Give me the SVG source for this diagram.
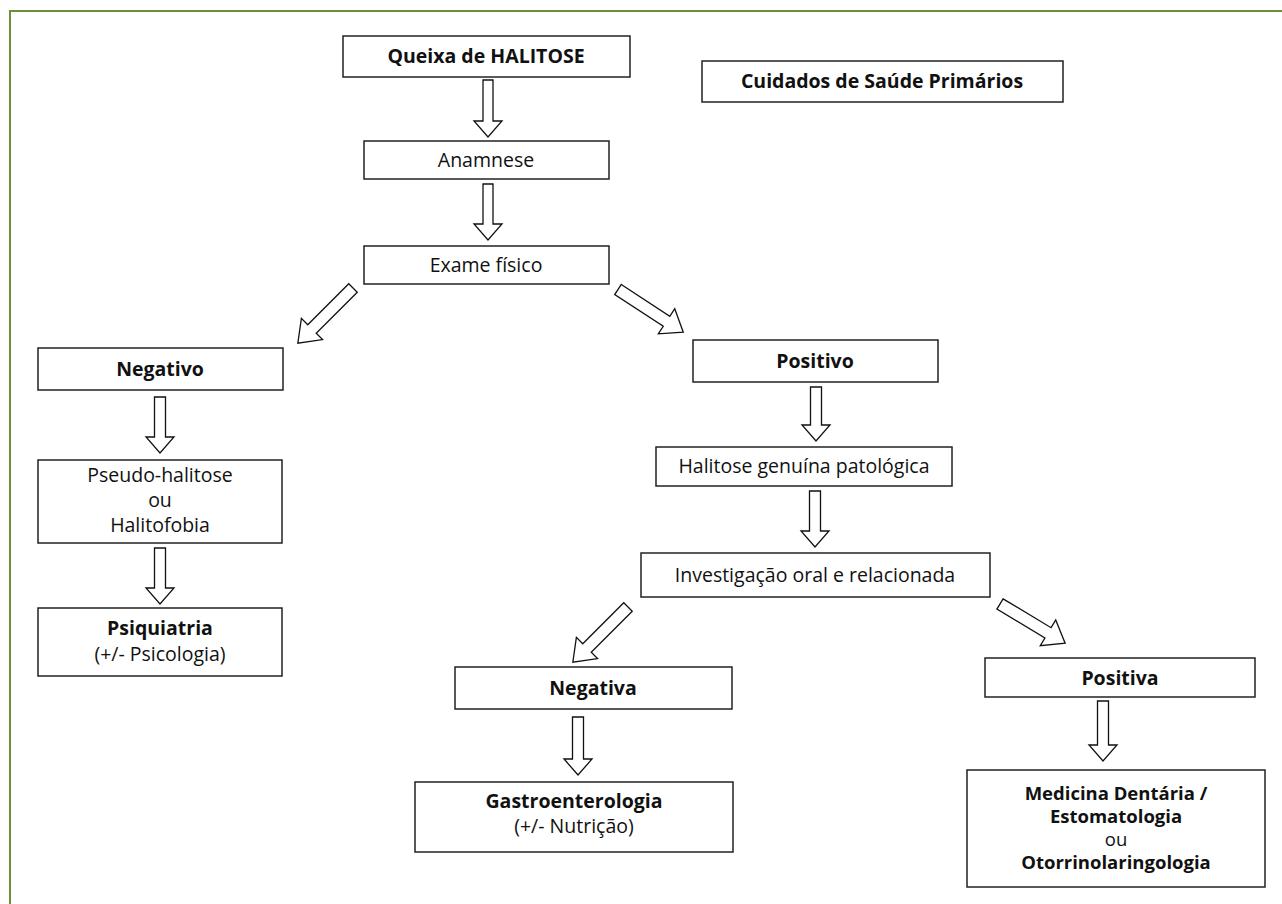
<svg xmlns="http://www.w3.org/2000/svg" width="1282" height="904" viewBox="0 0 1282 904">
<style>
.box{fill:#fff;stroke:#222;stroke-width:1.5}
.arr{fill:#fff;stroke:#111;stroke-width:1.3;stroke-linejoin:miter}
text{font-family:"Open Sans","Liberation Sans",sans-serif;font-size:19.5px;fill:#111;text-anchor:middle}
.b{font-weight:bold}
.s{font-size:18.5px}
</style>
<rect x="0" y="0" width="1282" height="904" fill="#fff"/>
<rect x="10" y="11" width="1290" height="910" fill="none" stroke="#6f8f3a" stroke-width="2"/>
<g id="connectors">
<polygon class="arr" transform="translate(488,80)" points="-5,0 5,0 5,41 14,41 0,57 -14,41 -5,41"/>
<polygon class="arr" transform="translate(488,184)" points="-5,0 5,0 5,40 14,40 0,56 -14,40 -5,40"/>
<polygon class="arr" transform="translate(353,288) rotate(135)" points="0,-6 58,-6 58,-15 78,0 58,15 58,6 0,6"/>
<polygon class="arr" transform="translate(618,289.5) rotate(33.2)" points="0,-6 58,-6 58,-15 78,0 58,15 58,6 0,6"/>
<polygon class="arr" transform="translate(160,397)" points="-5.5,0 5.5,0 5.5,40 14,40 0,56 -14,40 -5.5,40"/>
<polygon class="arr" transform="translate(160,548)" points="-5.5,0 5.5,0 5.5,40 14,40 0,56 -14,40 -5.5,40"/>
<polygon class="arr" transform="translate(816,387)" points="-5.5,0 5.5,0 5.5,38 14,38 0,54 -14,38 -5.5,38"/>
<polygon class="arr" transform="translate(815,491)" points="-5.5,0 5.5,0 5.5,40 14,40 0,56 -14,40 -5.5,40"/>
<polygon class="arr" transform="translate(628,607) rotate(135)" points="0,-6 58,-6 58,-15 78,0 58,15 58,6 0,6"/>
<polygon class="arr" transform="translate(1000,604) rotate(31)" points="0,-6 56,-6 56,-15 76,0 56,15 56,6 0,6"/>
<polygon class="arr" transform="translate(578,717)" points="-5.5,0 5.5,0 5.5,42 14,42 0,58 -14,42 -5.5,42"/>
<polygon class="arr" transform="translate(1103,701)" points="-5.5,0 5.5,0 5.5,44 14,44 0,60 -14,44 -5.5,44"/>
</g>
<g id="queixa"><rect class="box" x="343" y="36" width="287" height="41"/><text class="b" x="486" y="63">Queixa de HALITOSE</text></g>
<g id="cuidados"><rect class="box" x="702" y="61" width="361" height="41"/><text class="b" x="882" y="88">Cuidados de Saúde Primários</text></g>
<g id="anamnese"><rect class="box" x="364" y="141" width="245" height="38"/><text x="486" y="167">Anamnese</text></g>
<g id="exame"><rect class="box" x="364" y="246" width="245" height="38"/><text x="486" y="272">Exame físico</text></g>
<g id="negativo"><rect class="box" x="38" y="348" width="245" height="42"/><text class="b" x="160" y="376">Negativo</text></g>
<g id="pseudo"><rect class="box" x="38" y="460" width="244" height="83"/><text x="160" y="482">Pseudo-halitose</text><text x="160" y="507">ou</text><text x="160" y="532">Halitofobia</text></g>
<g id="psiquiatria"><rect class="box" x="38" y="608" width="244" height="68"/><text class="b" x="160" y="635">Psiquiatria</text><text x="160" y="661">(+/- Psicologia)</text></g>
<g id="positivo"><rect class="box" x="693" y="340" width="245" height="42"/><text class="b" x="815" y="368">Positivo</text></g>
<g id="halitose"><rect class="box" x="656" y="447" width="296" height="39"/><text x="804" y="473">Halitose genuína patológica</text></g>
<g id="investigacao"><rect class="box" x="641" y="553" width="349" height="44"/><text x="815" y="582">Investigação oral e relacionada</text></g>
<g id="negativa"><rect class="box" x="455" y="667" width="277" height="42"/><text class="b" x="593" y="695">Negativa</text></g>
<g id="positiva"><rect class="box" x="985" y="658" width="270" height="39"/><text class="b" x="1120" y="685">Positiva</text></g>
<g id="gastro"><rect class="box" x="415" y="782" width="318" height="70"/><text class="b" x="574" y="808">Gastroenterologia</text><text x="574" y="833">(+/- Nutrição)</text></g>
<g id="medicina"><rect class="box" x="967" y="770" width="298" height="117"/><text class="b s" x="1116" y="800">Medicina Dentária /</text><text class="b s" x="1116" y="823">Estomatologia</text><text class="s" x="1116" y="846">ou</text><text class="b s" x="1116" y="869">Otorrinolaringologia</text></g>
</svg>
